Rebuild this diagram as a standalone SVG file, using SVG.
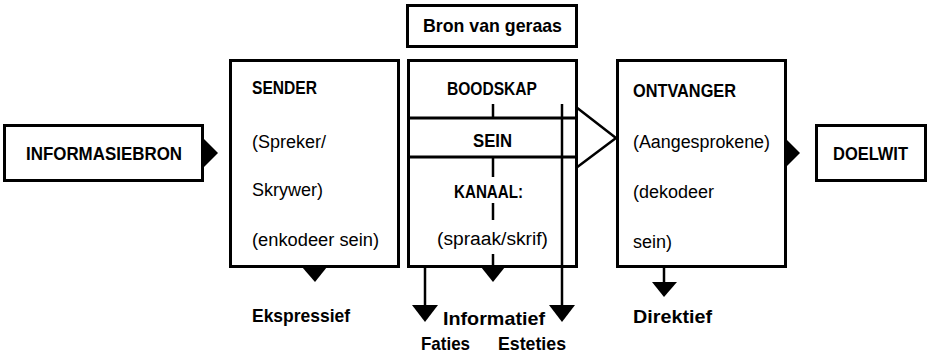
<svg xmlns="http://www.w3.org/2000/svg" width="927" height="355" viewBox="0 0 927 355">
<style>
.box{fill:#fff;stroke:#000;stroke-width:3}
.ln{fill:none;stroke:#000;stroke-width:2.5}
.tri{fill:#000;stroke:none}
.b{font-family:"Liberation Sans",Arial,sans-serif;font-weight:bold;font-size:18px;fill:#000}
.bl{font-family:"Liberation Sans",Arial,sans-serif;font-weight:bold;font-size:19px;fill:#000}
.r{font-family:"Liberation Sans",Arial,sans-serif;font-size:18px;fill:#000}
</style>
<rect width="927" height="355" fill="#fff"/>
<g id="informasiebron">
<rect class="box" x="4.5" y="125.5" width="198" height="55"/>
<text class="b" x="26" y="160" textLength="156" lengthAdjust="spacingAndGlyphs">INFORMASIEBRON</text>
</g>
<g id="sender">
<rect class="box" x="230.5" y="60.5" width="168" height="206"/>
<text class="b" x="252" y="94" textLength="65" lengthAdjust="spacingAndGlyphs">SENDER</text>
<text class="r" x="252" y="148">(Spreker/</text>
<text class="r" x="252" y="196">Skrywer)</text>
<text class="r" x="252" y="246" textLength="127" lengthAdjust="spacingAndGlyphs">(enkodeer sein)</text>
</g>
<g id="bron-van-geraas">
<rect class="box" x="407.5" y="5.5" width="169" height="41"/>
<text class="bl" x="423" y="32" textLength="139" lengthAdjust="spacingAndGlyphs">Bron van geraas</text>
</g>
<g id="boodskap">
<rect class="box" x="408.5" y="60.5" width="168" height="206"/>
<line class="box" x1="408" y1="118" x2="577" y2="118"/>
<line class="box" x1="408" y1="157" x2="577" y2="157"/>
<text class="b" x="447" y="95" textLength="90" lengthAdjust="spacingAndGlyphs">BOODSKAP</text>
<text class="b" x="473" y="147" textLength="39" lengthAdjust="spacingAndGlyphs">SEIN</text>
<text class="b" x="454" y="198" textLength="69" lengthAdjust="spacingAndGlyphs">KANAAL:</text>
<text class="r" x="437" y="245" textLength="111" lengthAdjust="spacingAndGlyphs">(spraak/skrif)</text>
</g>
<g id="ontvanger">
<rect class="box" x="617.5" y="60.5" width="168" height="206"/>
<text class="b" x="633" y="97" textLength="103" lengthAdjust="spacingAndGlyphs">ONTVANGER</text>
<text class="r" x="633" y="148" textLength="137" lengthAdjust="spacingAndGlyphs">(Aangesprokene)</text>
<text class="r" x="633" y="198">(dekodeer</text>
<text class="r" x="633" y="248">sein)</text>
</g>
<g id="doelwit">
<rect class="box" x="816.5" y="125.5" width="109" height="55"/>
<text class="b" x="833" y="160" textLength="75" lengthAdjust="spacingAndGlyphs">DOELWIT</text>
</g>
<g id="connectors">
<polygon class="tri" points="203,138 218,153 203,168"/>
<polygon class="tri" points="786,139 800,153 786,167"/>
<polygon class="tri" points="302,267 327,267 315,282"/>
<polygon class="tri" points="481,267 505,267 493,282"/>
<line class="ln" x1="493" y1="104" x2="493" y2="118"/>
<line class="ln" x1="493" y1="158" x2="493" y2="177"/>
<line class="ln" x1="493" y1="203" x2="493" y2="220"/>
<line class="ln" x1="493" y1="254" x2="493" y2="267"/>
<line class="ln" x1="425" y1="266" x2="425" y2="306"/>
<polygon class="tri" points="412,305 438,305 425,322"/>
<line class="ln" x1="562" y1="104" x2="562" y2="306"/>
<polygon class="tri" points="549,305 575,305 562,322"/>
<polyline class="ln" points="576,107 616,138 576,168"/>
<line class="ln" x1="664" y1="266" x2="664" y2="283"/>
<polygon class="tri" points="652,282 677,282 664,297"/>
</g>
<g id="labels">
<text class="bl" x="252" y="322" textLength="98" lengthAdjust="spacingAndGlyphs">Ekspressief</text>
<text class="bl" x="443" y="325" textLength="102" lengthAdjust="spacingAndGlyphs">Informatief</text>
<text class="bl" x="421" y="350" textLength="49" lengthAdjust="spacingAndGlyphs">Faties</text>
<text class="bl" x="498" y="350" textLength="68" lengthAdjust="spacingAndGlyphs">Esteties</text>
<text class="bl" x="633" y="323" textLength="79" lengthAdjust="spacingAndGlyphs">Direktief</text>
</g>
</svg>
